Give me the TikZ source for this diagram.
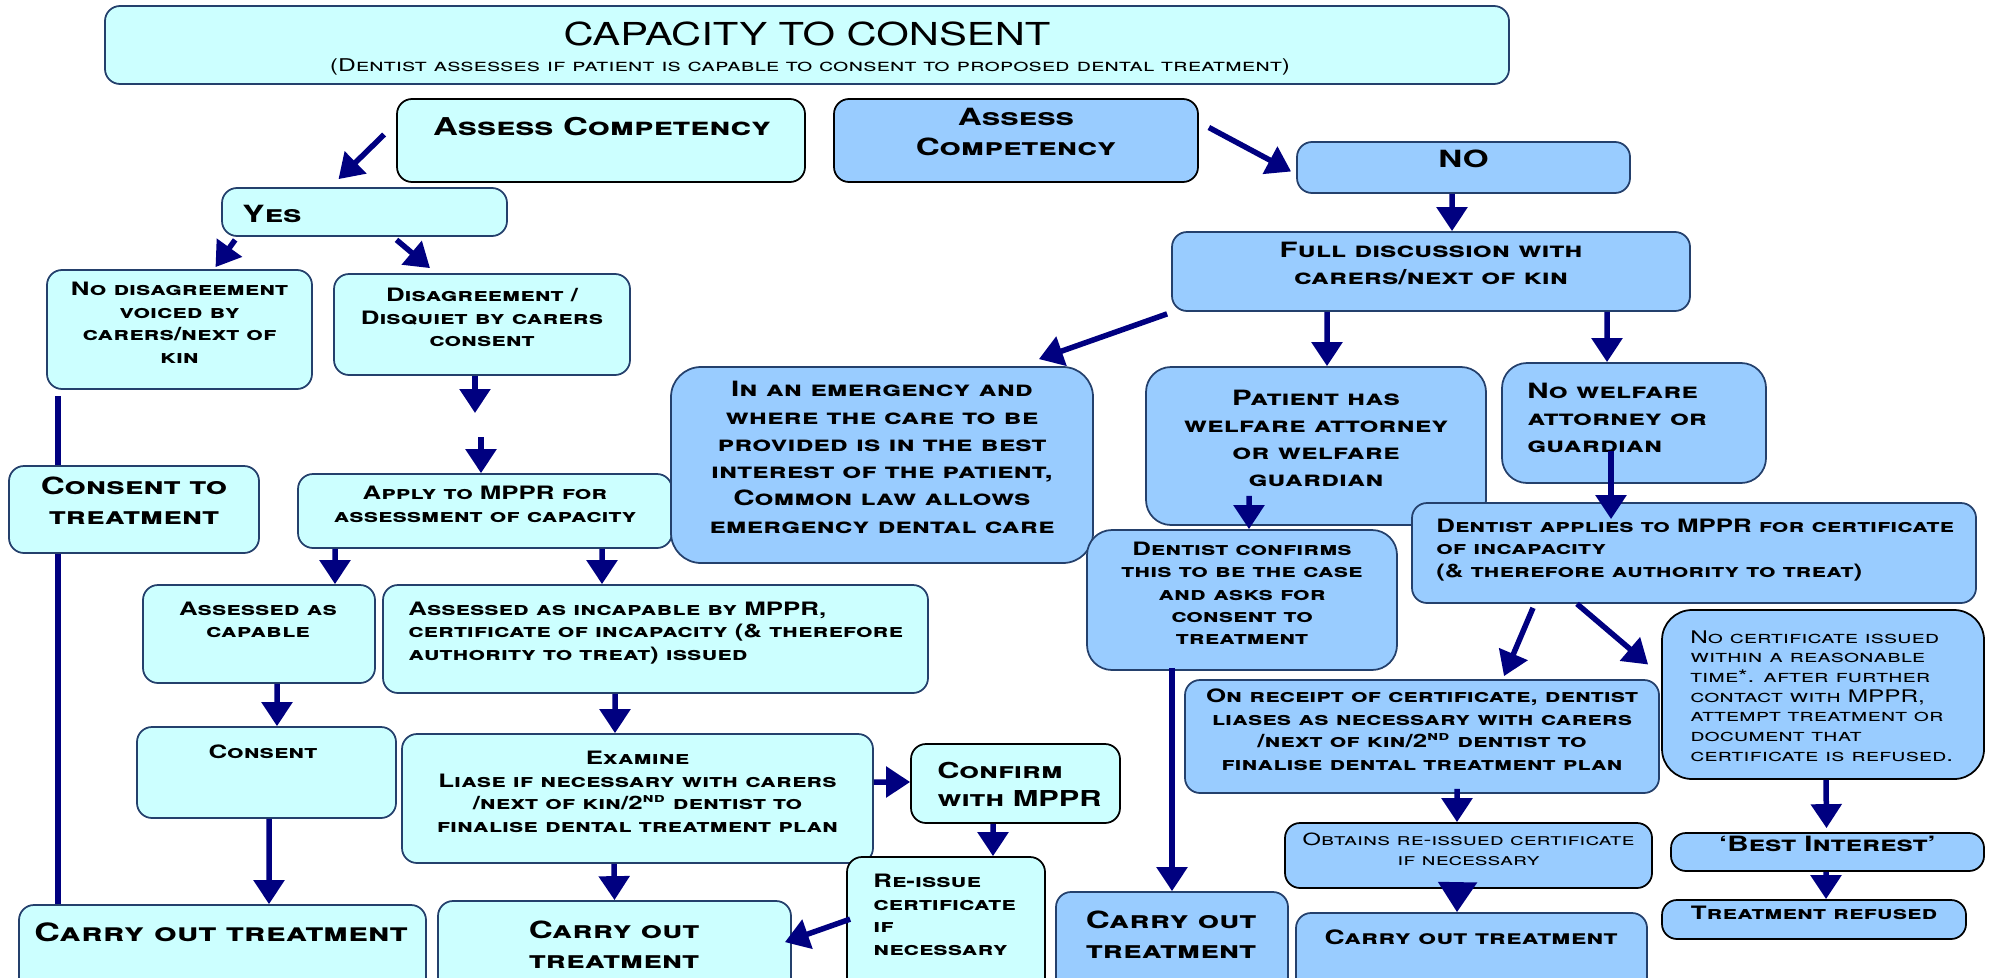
\documentclass[tikz,border=0pt]{standalone}
\usepackage{fontspec}
\setmainfont{TeX Gyre Heros}[FakeStretch=1.4]
\newfontfamily\titlefont{TeX Gyre Heros}[FakeStretch=1.32]
\usetikzlibrary{arrows.meta,fit,positioning}
\definecolor{cyanfill}{HTML}{CCFFFF}
\definecolor{bluefill}{HTML}{99CCFF}
\definecolor{boxline}{HTML}{24406C}
\definecolor{arrowblue}{HTML}{000080}

\begin{document}
\begin{tikzpicture}[x=0.2mm,y=-0.2mm,
  cbox/.style={draw=boxline,fill=cyanfill,line width=0.35mm,rounded corners=3mm,inner sep=0pt},
  bbox/.style={cbox,fill=bluefill},
  txt/.style={inner sep=0pt},
  big/.style={font=\fontsize{13.5}{17}\selectfont\bfseries\scshape,align=center},
  mid/.style={font=\fontsize{12}{15.5}\selectfont\bfseries\scshape,align=center},
  sml/.style={font=\fontsize{10.5}{12.8}\selectfont\bfseries\scshape,align=center},
  thin/.style={font=\fontsize{9.9}{11.2}\selectfont\scshape,align=left},
  arr/.style={draw=arrowblue,line width=1.1mm,-{Triangle[width=6mm,length=4.8mm]}},
  ln/.style={draw=arrowblue,line width=1.1mm}]
\useasboundingbox (0,0) rectangle (1992,977);
\clip (0,0) rectangle (1992,977);

% heading
\node[cbox,fit={(105,6)(1509,84)}] (title) {};
\node[txt,font=\fontsize{18}{20}\selectfont\titlefont] (titlet) at (807,34) {CAPACITY TO CONSENT};
\node[txt,font=\fontsize{10}{12}\selectfont\scshape] (subt) at (810,67) {(Dentist assesses if patient is capable to consent to proposed dental treatment)};

% capable side
\node[cbox,draw=black,fit={(397,99)(805,182)}] (assessY) {};
\node[txt,big,font=\fontsize{14}{17}\selectfont\bfseries\scshape] (assessYt) at (602,127) {Assess Competency};
\node[cbox,fit={(222,188)(507,236)}] (yes) {};
\node[txt,big,anchor=west] (yest) at (242,214) {Yes};
\node[cbox,sml,fit={(47,270)(312,389)}] (nodis) {No disagreement\\voiced by\\carers/next of\\kin};
\node[cbox,sml,align=left,fit={(334,274)(630,375)}] (disagree) {Disagreement /\\Disquiet by carers\\consent};
\node[cbox,big,fit={(9,466)(259,553)}] (consentT) {Consent to\\treatment};
\node[cbox,sml,fit={(298,474)(672,548)}] (apply) {Apply to MPPR for\\assessment of capacity};
\node[cbox,fit={(143,585)(375,683)}] (capable) {};
\node[txt,sml] (capablet) at (258,620) {Assessed as\\capable};
\node[cbox,fit={(383,585)(928,693)}] (incapable) {};
\node[txt,sml,align=left,anchor=west] (incapablet) at (408,633) {Assessed as incapable by MPPR,\\certificate of incapacity (\& therefore\\authority to treat) issued};
\node[cbox,fit={(137,727)(396,818)}] (consent) {};
\node[txt,sml] (consentt) at (263,752) {Consent};
\node[cbox,sml,fit={(402,734)(873,863)}] (examine) {Examine\\Liase if necessary with carers\\/next of kin/2\textsuperscript{nd} dentist to\\finalise dental treatment plan};
\node[cbox,draw=black,fit={(911,744)(1120,823)}] (confirm) {};
\node[txt,big,font=\fontsize{12.5}{16}\selectfont\bfseries\scshape,align=left,anchor=west] (confirmt) at (937,784) {Confirm\\with MPPR};
\node[cbox,draw=black,fit={(847,857)(1045,1010)}] (reissue) {};
\node[txt,sml,align=left,anchor=north west] (reissuet) at (873,874) {Re-issue\\certificate\\if\\necessary};
\node[cbox,fit={(19,905)(426,1010)}] (carry1) {};
\node[txt,big,font=\fontsize{14.4}{17}\selectfont\bfseries\scshape] (carry1t) at (221,932) {Carry out treatment};
\node[cbox,fit={(438,901)(791,1010)}] (carry2) {};
\node[txt,big] (carry2t) at (614,945) {Carry out\\treatment};

% incapable side
\node[bbox,draw=black,big,fit={(834,99)(1198,182)}] (assessN) {Assess\\Competency};
\node[bbox,big,fit={(1297,142)(1630,193)}] (no) {NO};
\node[bbox,mid,fit={(1172,232)(1690,311)}] (full) {Full discussion with\\carers/next of kin};
\node[bbox,mid,rounded corners=6mm,fit={(671,367)(1093,563)}] (emerg) {In an emergency and\\where the care to be\\provided is in the best\\interest of the patient,\\Common law allows\\emergency dental care};
\node[bbox,mid,rounded corners=5mm,fit={(1146,367)(1486,525)}] (patient) {Patient has\\welfare attorney\\or welfare\\guardian};
\node[bbox,rounded corners=5mm,fit={(1502,363)(1766,483)}] (nowelf) {};
\node[txt,mid,align=left,anchor=west] (nowelft) at (1527,418) {No welfare\\attorney or\\guardian};
\node[bbox,sml,rounded corners=5mm,fit={(1087,530)(1397,670)}] (dconf) {Dentist confirms\\this to be the case\\and asks for\\consent to\\treatment};
\node[bbox,fit={(1412,503)(1976,603)}] (dapp) {};
\node[txt,sml,align=left,anchor=west] (dappt) at (1436,550) {Dentist applies to MPPR for certificate\\of incapacity\\(\& therefore authority to treat)};
\node[bbox,sml,fit={(1185,680)(1659,793)}] (receipt) {On receipt of certificate, dentist\\liases as necessary with carers\\/next of kin/2\textsuperscript{nd} dentist to\\finalise dental treatment plan};
\node[bbox,draw=black,rounded corners=6mm,fit={(1662,610)(1984,779)}] (nocert) {};
\node[txt,thin,anchor=west] (nocertt) at (1690,696) {No certificate issued\\within a reasonable\\time*. after further\\contact with MPPR,\\attempt treatment or\\document that\\certificate is refused.};
\node[bbox,draw=black,thin,align=center,font=\fontsize{9.6}{11.4}\selectfont\scshape,fit={(1285,823)(1652,888)}] (obtains) {Obtains re-issued certificate\\if necessary};
\node[bbox,fit={(1056,892)(1288,1010)}] (carry3) {};
\node[txt,big] (carry3t) at (1171,935) {Carry out\\treatment};
\node[bbox,fit={(1296,913)(1647,1010)}] (carry4) {};
\node[txt,mid,font=\fontsize{11.3}{14}\selectfont\bfseries\scshape] (carry4t) at (1471,937) {Carry out treatment};
\node[bbox,draw=black,mid,fit={(1671,833)(1984,871)}] (best) {`Best Interest'};
\node[bbox,draw=black,sml,fit={(1662,900)(1966,939)}] (refused) {Treatment refused};

\coordinate (gapA) at (475,413);
\coordinate (gapB) at (481,437);
\coordinate (lineTop) at (58,396);

\draw[arr] ([shift={(-12,-6)}]assessY.west) -- ([shift={(-26,-8)}]yes.north);
\draw[arr] ([shift={(14,3)}]yes.south west) -- ([shift={(36,-2)}]nodis.north);
\draw[arr] ([shift={(32,3)}]yes.south) -- ([shift={(-52,-5)}]disagree.north);
\draw[arr] (disagree.south -| gapA) -- (gapA);
\draw[arr] (gapB) -- (gapB |- apply.north);
\draw[ln] (lineTop) -- (lineTop |- consentT.north);
\draw[ln] (lineTop |- consentT.south) -- (lineTop |- carry1.north);
\draw[arr] ([xshift=-30mm]apply.south) -- ([xshift=15.2mm]capable.north);
\draw[arr] ([xshift=23.4mm]apply.south) -- ([xshift=-10.7mm]incapable.north);
\draw[arr] ([xshift=3.6mm]capable.south) -- ([xshift=2.1mm]consent.north);
\draw[arr] ([xshift=0.5mm]consent.south) -- ([xshift=9.3mm]carry1.north);
\draw[arr] ([xshift=-8.1mm]incapable.south) -- ([xshift=-4.5mm]examine.north);
\draw[arr] ([yshift=3.3mm]examine.east) -- ([yshift=0.3mm]confirm.west);
\draw[arr] ([xshift=-4.5mm]confirm.south) -- ([xshift=9.4mm]reissue.north);
\draw[arr] ([shift={(4,63)}]reissue.north west) -- ([shift={(-7,42)}]carry2.north east);
\draw[arr] ([xshift=-4.7mm]examine.south) -- (carry2.north);

\draw[arr] ([shift={(10,-13)}]assessN.east) -- ([shift={(-5,4)}]no.west);
\draw[arr] ([xshift=-2.3mm]no.south) -- ([xshift=4.2mm]full.north);
\draw[arr] ([shift={(-4,2)}]full.south west) -- ([shift={(-55,-7)}]emerg.north east);
\draw[arr] ([xshift=-20.8mm]full.south) -- ([xshift=2.2mm]patient.north);
\draw[arr] ([xshift=35.2mm]full.south) -- ([xshift=-5.4mm]nowelf.north);
\draw[arr] ([shift={(-67,-30)}]patient.south) -- ([xshift=1.4mm]dconf.north);
\draw[arr] ([shift={(-70,-3)}]dconf.south) -- (carry3.north);
\draw[arr] ([shift={(-23,-33)}]nowelf.south) -- ([shift={(-83,17)}]dapp.north);
\draw[arr] ([shift={(-161,4)}]dapp.south) -- ([shift={(82,-3)}]receipt.north);
\draw[arr] ([xshift=-23.4mm]dapp.south) -- ([shift={(-13,-30)}]nocert.west);
\draw[arr] ([shift={(35,-5)}]receipt.south) -- ([xshift=-2.3mm]obtains.north);
\draw[arr,-{Triangle[width=7.6mm,length=6mm]}] ([shift={(-11,-5)}]obtains.south) -- ([xshift=-2.9mm]carry4.north);
\draw[arr] ([xshift=0.6mm]nocert.south) -- ([shift={(-1,-4)}]best.north);
\draw[arr] ([xshift=-0.3mm]best.south) -- ([xshift=2.4mm]refused.north);
\end{tikzpicture}
\end{document}
